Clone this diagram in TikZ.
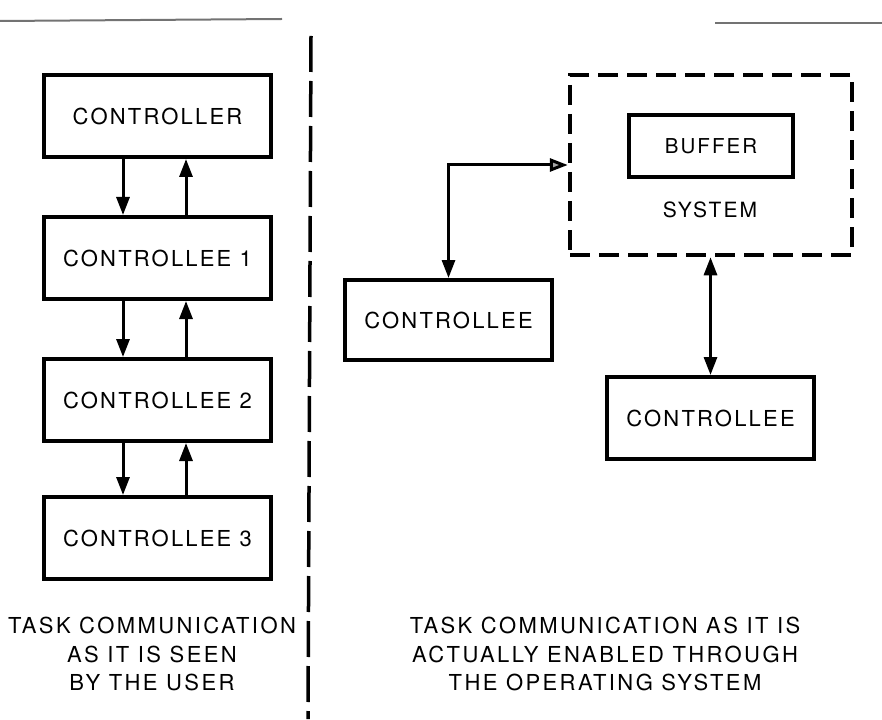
\documentclass[tikz,border=0pt]{standalone}
\usepackage{fontspec}
\setmainfont{TeX Gyre Heros}
\newfontfamily\boxfont[LetterSpace=10]{TeX Gyre Heros}
\newfontfamily\capfont[LetterSpace=11]{TeX Gyre Heros}
\usetikzlibrary{arrows.meta}
\tikzset{
  blk/.style={draw, line width=4pt, minimum width=227pt, minimum height=82pt, inner sep=0pt,
    font=\fontsize{22}{26}\selectfont\boxfont},
  rblk/.style={blk, minimum width=207pt},
  sysbox/.style={draw, line width=4.5pt, dash pattern=on 20pt off 9pt, minimum width=282pt,
    minimum height=180pt, inner sep=0pt},
  bufbox/.style={draw, line width=4.5pt, minimum width=164pt, minimum height=62pt, inner sep=0pt,
    font=\fontsize{20.5}{24}\selectfont\boxfont},
  lbl/.style={inner sep=0pt, font=\fontsize{21}{24}\selectfont\boxfont},
  caption/.style={inner sep=0pt, align=center, font=\fontsize{22}{28.5}\selectfont\capfont},
  arr/.style={line width=3pt, -{Triangle[length=18pt,width=13pt]}},
  divider/.style={line width=3.5pt, dash pattern=on 36pt off 9pt},
  noise/.style={line width=2pt, black!55},
}
\begin{document}
\begin{tikzpicture}[x=1pt,y=-1pt]
\useasboundingbox (0,0) rectangle (882,719);

% scan rule at the top
\coordinate (n1) at (0,21);
\coordinate (n2) at (282,19);
\coordinate (n3) at (715,23);
\coordinate (n4) at (882,23);
\draw[noise] (n1) -- (n2);
\draw[noise] (n3) -- (n4);

% divider
\coordinate (dtop) at (311,36);
\coordinate (dbot) at (308,719);
\draw[divider] (dtop) -- (dbot);

% left column
\node[blk] (ctl) at (157.5,116) {CONTROLLER};
\node[blk] (c1) at (157.5,258) {CONTROLLEE 1};
\node[blk] (c2) at (157.5,400) {CONTROLLEE 2};
\node[blk] (c3) at (157.5,538) {CONTROLLEE 3};

\coordinate (dn) at (123,0);
\coordinate (upx) at (186,0);
\draw[arr] (ctl.south -| dn) -- (c1.north -| dn);
\draw[arr] (c1.north -| upx) -- (ctl.south -| upx);
\draw[arr] (c1.south -| dn) -- (c2.north -| dn);
\draw[arr] (c2.north -| upx) -- (c1.south -| upx);
\draw[arr] (c2.south -| dn) -- (c3.north -| dn);
\draw[arr] (c3.north -| upx) -- (c2.south -| upx);

\node[caption] (capl) at (152,654) {TASK COMMUNICATION\\AS IT IS SEEN\\BY THE USER};

% right side
\node[sysbox] (sys) at (711,165) {};
\node[bufbox] (buf) at (711,146) {BUFFER};
\node[lbl] (systxt) at (710,210) {SYSTEM};

\node[rblk, minimum height=80pt] (cl) at (448.5,320) {CONTROLLEE};
\node[rblk] (cr) at (710.5,418) {CONTROLLEE};

\draw[line width=3pt, {Triangle[length=18pt,width=13pt,fill=black!35]}-{Triangle[length=18pt,width=13pt]}]
  (sys.west) -- (cl.north |- sys.west) -- (cl.north);
\draw[line width=3pt, {Triangle[length=18pt,width=13pt]}-{Triangle[length=18pt,width=13pt]}]
  (cr.north |- sys.south) -- (cr.north);

\node[caption] (capr) at (605,654) {TASK COMMUNICATION AS IT IS\\ACTUALLY ENABLED THROUGH\\THE OPERATING SYSTEM};
\end{tikzpicture}
\end{document}
